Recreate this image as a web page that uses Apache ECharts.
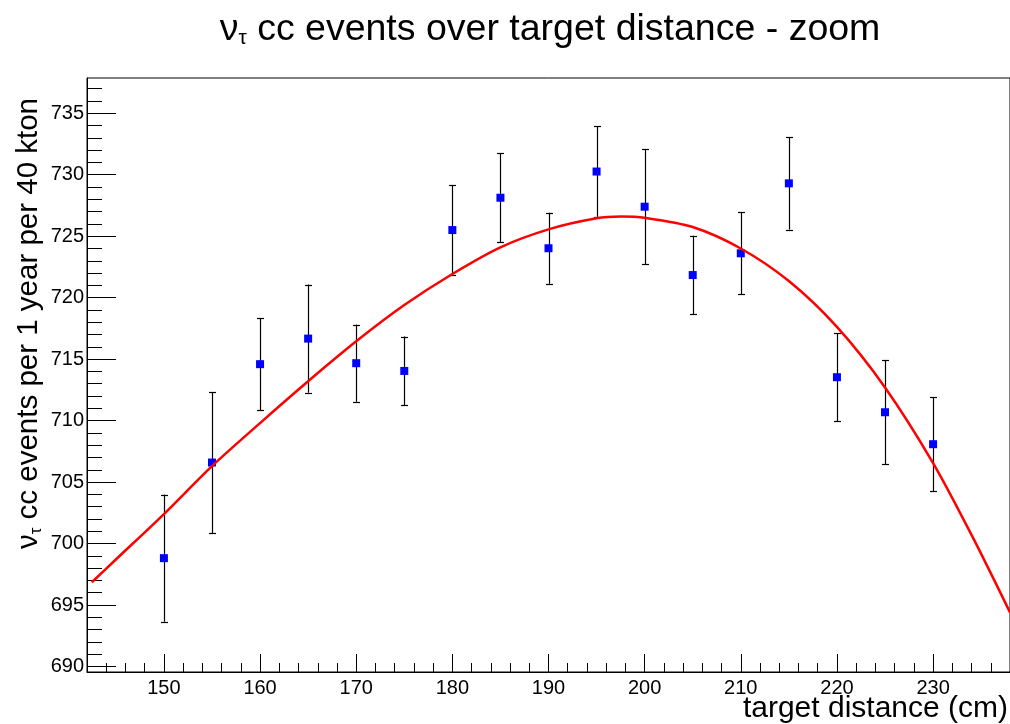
<!DOCTYPE html>
<html><head><meta charset="utf-8">
<script src="https://cdn.jsdelivr.net/npm/echarts@6/dist/echarts.min.js"></script>
<style>html,body{margin:0;padding:0;background:#fff}#c{width:1010px;height:724px}</style>
</head><body><div id="c"></div>
<script>
// ---- data ----
const distances = [150,155,160,165,170,175,180,185,190,195,200,205,210,215,220,225,230];
const events    = [698.81,706.59,714.59,716.67,714.67,714.04,725.5,728.13,724.02,730.26,727.4,721.84,723.61,729.3,713.53,710.68,708.08];
const errors    = [5.17,5.73,3.73,4.4,3.14,2.8,3.67,3.63,2.89,3.69,4.7,3.2,3.35,3.76,3.58,4.22,3.83];
// fitted curve
const fitX = [142.5,145,150,155,160,165,170,175,180,185,190,195,197.5,200,205,210,215,220,225,230,234,238];
const fitY = [696.85,698.7,702.4,706.3,709.8,713.2,716.45,719.4,721.93,724.1,725.56,726.46,726.6,726.5,725.75,724.0,721.35,717.62,712.7,706.55,700.7,694.4];
// tick labels
const xMajorTicks = [150,160,170,180,190,200,210,220,230];
const xMinorTicks = [144,146,148,152,154,156,158,162,164,166,168,172,174,176,178,182,184,186,188,192,194,196,198,202,204,206,208,212,214,216,218,222,224,226,228,232,234,236];
const yMajorTicks = [690,695,700,705,710,715,720,725,730,735];
const yMinorTicks = [691,692,693,694,696,697,698,699,701,702,703,704,706,707,708,709,711,712,713,714,716,717,718,719,721,722,723,724,726,727,728,729,731,732,733,734,736,737];
const titleText = ['ν', 'τ', ' cc events over target distance - zoom'];
const yTitleText = ['ν', 'τ', ' cc events per 1 year per 40 kton'];
const xTitleText = 'target distance (cm)';

const FONT = '"Liberation Sans", Arial, Helvetica, sans-serif';
const xMin = 142, xMax = 238, yMin = 689.55, yMax = 737.87;

const chart = echarts.init(document.getElementById('c'), null, {renderer: 'canvas'});

function makeAxis(min, max, major, minor, majorLen, minorLen, pos) {
  return [
    {type: 'value', min: min, max: max, position: pos,
     axisLine: {show: true, onZero: false, lineStyle: {color: '#000', width: 1}},
     axisTick: {show: true, inside: true, length: majorLen, customValues: major, lineStyle: {color: '#000', width: 1}},
     axisLabel: {show: true, customValues: major, color: '#000', fontSize: 20, fontFamily: FONT, margin: pos === 'left' ? 3 : 6},
     splitLine: {show: false}},
    {type: 'value', min: min, max: max, position: pos,
     axisLine: {show: false, onZero: false},
     axisTick: {show: true, inside: true, length: minorLen, customValues: minor, lineStyle: {color: '#000', width: 1}},
     axisLabel: {show: false},
     splitLine: {show: false}}
  ];
}

const pts = distances.map((d, i) => [d, events[i], errors[i]]);
const fitData = fitX.map((x, i) => [x, fitY[i]]);

const option = {
  animation: false,
  backgroundColor: '#fff',
  grid: {left: 87, top: 78, right: -3, bottom: 52, show: true, borderColor: '#000', borderWidth: 1, containLabel: false},
  xAxis: makeAxis(xMin, xMax, xMajorTicks, xMinorTicks, 18, 9, 'bottom'),
  yAxis: makeAxis(yMin, yMax, yMajorTicks, yMinorTicks, 29, 15, 'left'),
  series: [
    {type: 'custom', z: 2, data: pts, clip: true,
     renderItem: function (params, api) {
       const x = api.value(0), y = api.value(1), e = api.value(2);
       const top = api.coord([x, y + e]);
       const bot = api.coord([x, y - e]);
       const cx = Math.round(top[0]) + 0.5;
       const hw = 3.5;
       const st = {stroke: '#000', lineWidth: 1.2};
       return {type: 'group', children: [
         {type: 'line', shape: {x1: cx, y1: top[1], x2: cx, y2: bot[1]}, style: st},
         {type: 'line', shape: {x1: cx - hw, y1: Math.round(top[1]) + 0.5, x2: cx + hw, y2: Math.round(top[1]) + 0.5}, style: st},
         {type: 'line', shape: {x1: cx - hw, y1: Math.round(bot[1]) + 0.5, x2: cx + hw, y2: Math.round(bot[1]) + 0.5}, style: st}
       ]};
     }},
    {type: 'scatter', z: 3, data: pts.map(p => [p[0], p[1]]), symbol: 'rect', symbolSize: 8,
     itemStyle: {color: '#0000ff', opacity: 1}},
    {type: 'line', z: 4, data: fitData, showSymbol: false, smooth: 0.3, clip: true,
     lineStyle: {color: '#ff0000', width: 2.5}}
  ],
  graphic: [
    {type: 'text', x: 550, y: 30, style: {
      text: '{a|' + titleText[0] + '}{s|' + titleText[1] + '}{a|' + titleText[2] + '}',
      align: 'center', verticalAlign: 'middle',
      rich: {a: {fontSize: 37.5, fontFamily: FONT, fill: '#000'},
             s: {fontSize: 21, fontFamily: FONT, fill: '#000', padding: [17, 0, 0, 0]}}}},
    {type: 'text', x: 29, y: 98, rotation: Math.PI / 2, style: {
      text: '{a|' + yTitleText[0] + '}{s|' + yTitleText[1] + '}{a|' + yTitleText[2] + '}',
      align: 'right', verticalAlign: 'middle',
      rich: {a: {fontSize: 29.5, fontFamily: FONT, fill: '#000'},
             s: {fontSize: 17, fontFamily: FONT, fill: '#000', padding: [14, 0, 0, 0]}}}},
    {type: 'text', x: 1008, y: 709, style: {
      text: xTitleText, align: 'right', verticalAlign: 'middle',
      fontSize: 30, fontFamily: FONT, fill: '#000'}}
  ]
};
chart.setOption(option);
</script></body></html>
